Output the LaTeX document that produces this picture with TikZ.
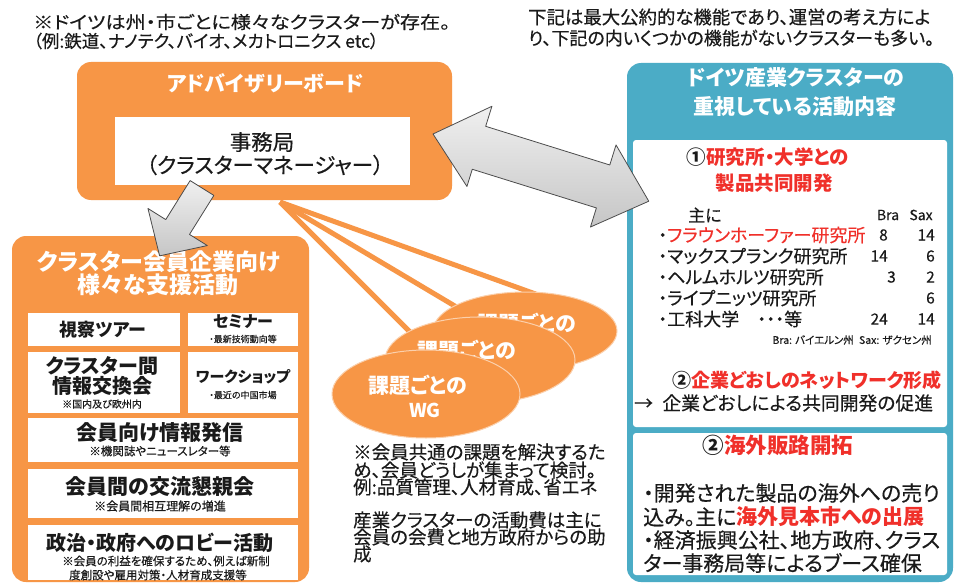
\documentclass[tikz,border=0pt]{standalone}
\usepackage{graphicx}
\usepackage{fontspec}
\setmainfont{Noto Sans CJK JP}[RawFeature=+palt]
\newfontfamily\mdf{Noto Sans CJK JP}[RawFeature=+palt, FakeBold=0.35]
\usetikzlibrary{shapes.geometric}
\definecolor{org}{HTML}{F79646}
\definecolor{blu}{HTML}{4BACC6}
\definecolor{redt}{HTML}{F0302A}
\definecolor{ink}{HTML}{1A1A1A}
\newcommand\fz[1]{\mdf\fontsize{#1}{#1}\selectfont}
\newcommand\fb[1]{\normalfont\fontsize{#1}{#1}\selectfont\bfseries}
\begin{document}
\begin{tikzpicture}[x=1pt,y=-1pt,
  tx/.style={inner sep=0pt, text=ink},
  wt/.style={inner sep=0pt, text=white},
  boxw/.style={fill=white},
  orgline/.style={draw=org, line width=5pt},
  garrow/.style={draw=gray!60!black, line width=0.8pt, top color=gray!12, bottom color=gray!45, line join=round},
  wg/.style={ellipse, fill=org, draw=org!45!white, line width=1pt, inner sep=0pt}]
\useasboundingbox (0,0) rectangle (955,583);
\fill[white] (0,0) rectangle (955,583);

% top notes
\node[tx,anchor=west,font=\fz{17.5}] (n1) at (33,22) {\scalebox{1.15}[1]{※ドイツは州・市ごとに様々なクラスターが存在。}};
\node[tx,anchor=west,font=\fz{17.5}] (n2) at (33,41) {（例:鉄道、ナノテク、バイオ、メカトロニクス etc）};
\node[tx,anchor=west,font=\fz{18.4}] (n3) at (528,17) {下記は最大公約的な機能であり、運営の考え方によ};
\node[tx,anchor=west,font=\fz{18}] (n4) at (528,38) {り、下記の内いくつかの機能がないクラスターも多い。};

% WG connector lines
\coordinate (hub) at (280,202);
\coordinate (e1) at (440,362);
\coordinate (e2) at (480,321);
\coordinate (e3) at (555,301);
\draw[orgline] (hub) -- (e1);
\draw[orgline] (hub) -- (e2);
\draw[orgline] (hub) -- (e3);

% advisory board
\fill[org, rounded corners=14] (77,62) rectangle (452,200);
\node[wt,font=\fb{21}] (adv) at (265,83) {アドバイザリーボード};
\fill[white] (115,117) rectangle (410,185);
\node[tx,font=\fz{21.5}] (sec1) at (262,142) {事務局};
\node[tx,font=\fz{21.5}] (sec2) at (265,165) {（クラスターマネージャー）};

% left support box
\fill[org, rounded corners=14] (12,236) rectangle (309,582);
\node[wt,font=\fb{23}] (lt1) at (159,262) {クラスター会員企業向け};
\node[wt,font=\fb{23}] (lt2) at (158,285) {様々な支援活動};
\fill[boxw] (28,313) rectangle (180,346);
\fill[boxw] (188,313) rectangle (298,346);
\fill[boxw] (28,352) rectangle (180,413);
\fill[boxw] (188,352) rectangle (298,413);
\fill[boxw] (28,418) rectangle (298,462);
\fill[boxw] (28,469) rectangle (298,518);
\fill[boxw] (28,525) rectangle (298,580);
\node[tx,font=\fb{18}] (b1) at (103,330) {視察ツアー};
\node[tx,font=\fb{16}] (b2) at (243,322) {セミナー};
\node[tx,font=\fz{9}] (b2s) at (243,339) {・最新技術動向等};
\node[tx,font=\fb{20}] (b3a) at (102,366) {クラスター間};
\node[tx,font=\fb{20}] (b3b) at (102,386) {情報交換会};
\node[tx,font=\fz{10}] (b3s) at (102,404) {※国内及び欧州内};
\node[tx,font=\fb{15}] (b4) at (243,377) {ワークショップ};
\node[tx,font=\fz{9}] (b4s) at (243,395) {・最近の中国市場};
\node[tx,font=\fb{21}] (b5) at (160,433) {会員向け情報発信};
\node[tx,font=\fz{11.5}] (b5s) at (160,451) {※機関誌やニュースレター等};
\node[tx,font=\fb{21}] (b6) at (160,487) {会員間の交流懇親会};
\node[tx,font=\fz{12}] (b6s) at (160,506) {※会員間相互理解の増進};
\node[tx,font=\fb{20}] (b7) at (160,543) {政治・政府へのロビー活動};
\node[tx,font=\fz{11.5}] (b7s1) at (166,561) {※会員の利益を確保するため、例えば新制};
\node[tx,font=\fz{11.5}] (b7s2) at (158,575) {度創設や雇用対策・人材育成支援等};

% WG ellipses
\node[wg, minimum width=184, minimum height=78] (wg3) at (525,331) {};
\node[wt,font=\fb{21}] (wg3t) at (527,323) {課題ごとの};
\node[wg, minimum width=190, minimum height=86] (wg2) at (480,360) {};
\node[wt,font=\fb{21}] (wg2t) at (467,350) {課題ごとの};
\node[wg, minimum width=188, minimum height=88] (wg1) at (426,394) {};
\node[wt,font=\fb{21}] (wg1t) at (418,385) {課題ごとの};
\node[wt,font=\fb{19}] (wg1w) at (425,410) {WG};

% WG description
\node[tx,anchor=west,font=\fz{18.5}] (d1) at (353,452) {※会員共通の課題を解決するた};
\node[tx,anchor=west,font=\fz{18.5}] (d2) at (353,470) {め、会員どうしが集まって検討。};
\node[tx,anchor=west,font=\fz{18.5}] (d3) at (353,487) {例:品質管理、人材育成、省エネ};
\node[tx,anchor=west,font=\fz{18.5}] (d4) at (353,520) {産業クラスターの活動費は主に};
\node[tx,anchor=west,font=\fz{18.5}] (d5) at (353,537) {会員の会費と地方政府からの助};
\node[tx,anchor=west,font=\fz{18.5}] (d6) at (353,554) {成};

% right blue panel
\fill[blu, rounded corners=14] (627,63) rectangle (953,582);
\fill[white, rounded corners=3] (633,140) rectangle (947,427);
\fill[white, rounded corners=3] (633,433) rectangle (947,575);
\node[wt,font=\fb{21}] (bt1) at (796,78) {ドイツ産業クラスターの};
\node[wt,font=\fb{21}] (bt2) at (795,107) {重視している活動内容};
\node[inner sep=0pt,text=redt,font=\fb{19.5}] (r1) at (768,157) {\textcolor{ink}{①}研究所・大学との};
\node[inner sep=0pt,text=redt,font=\fb{19.5}] (r2) at (774,183) {製品共同開発};
\node[tx,anchor=west,font=\fz{17}] (mn) at (688,215) {主に};
\node[tx,font=\fz{14}] (hb) at (888,215) {Bra};
\node[tx,font=\fz{14}] (hs) at (921,215) {Sax};
\node[inner sep=0pt,text=redt,anchor=west,font=\fz{18}] (i1) at (658,235) {\textcolor{ink}{・}フラウンホーファー研究所};
\node[tx,anchor=west,font=\fz{18}] (i2) at (658,256) {・マックスプランク研究所};
\node[tx,anchor=west,font=\fz{18}] (i3) at (658,277) {・ヘルムホルツ研究所};
\node[tx,anchor=west,font=\fz{18}] (i4) at (658,298) {・ライプニッツ研究所};
\node[tx,anchor=west,font=\fz{18}] (i5) at (658,319) {・工科大学\quad ・・・等};
\node[tx,anchor=east,font=\fz{15.5}] (v1a) at (888,235) {8};
\node[tx,anchor=east,font=\fz{15.5}] (v1b) at (935,235) {14};
\node[tx,anchor=east,font=\fz{15.5}] (v2a) at (888,256) {14};
\node[tx,anchor=east,font=\fz{15.5}] (v2b) at (935,256) {6};
\node[tx,anchor=east,font=\fz{15.5}] (v3a) at (896,277) {3};
\node[tx,anchor=east,font=\fz{15.5}] (v3b) at (935,277) {2};
\node[tx,anchor=east,font=\fz{15.5}] (v4b) at (935,298) {6};
\node[tx,anchor=east,font=\fz{15.5}] (v5a) at (888,319) {24};
\node[tx,anchor=east,font=\fz{15.5}] (v5b) at (935,319) {14};
\node[tx,anchor=east,font=\fz{10.5}] (leg) at (932,340) {Bra: バイエルン州\enspace Sax: ザクセン州};
\node[inner sep=0pt,text=redt,anchor=west,font=\fb{19}] (r3) at (672,380) {\textcolor{ink}{②}企業どおしのネットワーク形成};
\node[tx,anchor=west,font=\fz{18.8}] (r4) at (634,403) {→\enspace 企業どおしによる共同開発の促進};
\node[inner sep=0pt,text=redt,font=\fb{21.5}] (r5) at (778,445) {\textcolor{ink}{②}海外販路開拓};
\node[tx,anchor=west,font=\fz{21}] (s1) at (643,493) {・開発された製品の海外への売り};
\node[tx,anchor=west,font=\fz{21}] (s2) at (643,517) {込み。主に\textcolor{redt}{\normalfont\bfseries 海外見本市への出展}};
\node[tx,anchor=west,font=\fz{21}] (s3) at (643,540) {・経済振興公社、地方政府、クラス};
\node[tx,anchor=west,font=\fz{21}] (s4) at (643,563) {ター事務局等によるブース確保};

% gray block arrows
\begin{scope}[shift={(202,188)}, rotate=-122]
  \path[garrow] (0,-14) -- (46,-14) -- (46,-35) -- (80,0) -- (46,35) -- (46,14) -- (0,14) -- cycle;
\end{scope}
\begin{scope}[shift={(433,134)}, rotate=-17.3]
  \path[garrow] (0,0) -- (48,-44) -- (48,-23) -- (178,-23) -- (178,-44) -- (226,0)
     -- (178,42) -- (178,22) -- (48,22) -- (48,40) -- cycle;
\end{scope}
\end{tikzpicture}
\end{document}
